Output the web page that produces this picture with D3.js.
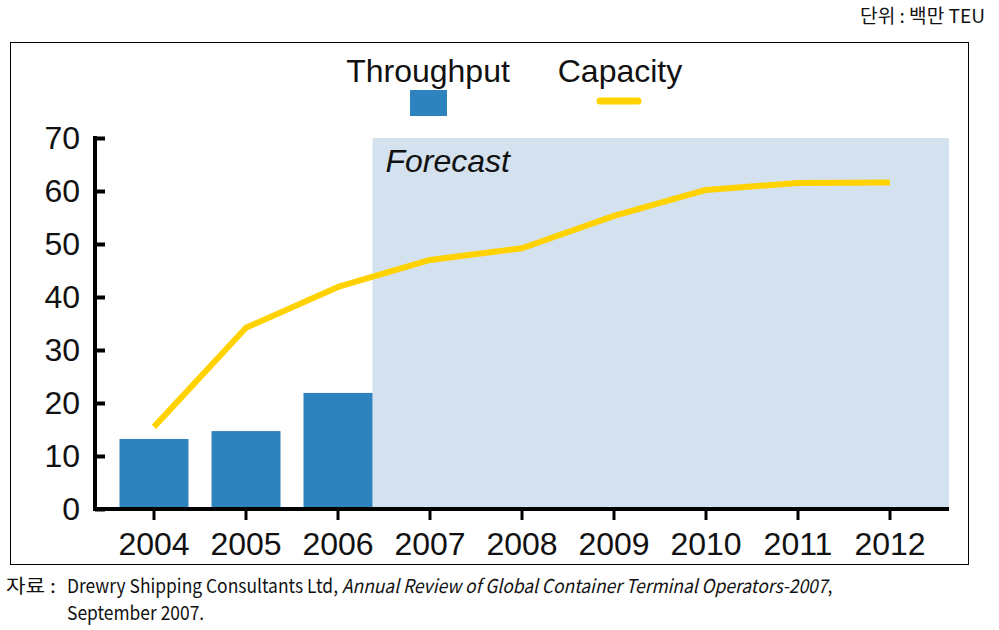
<!DOCTYPE html>
<html><head><meta charset="utf-8">
<script src="https://cdn.jsdelivr.net/npm/d3@7"></script>
<style>body{margin:0;background:#fff;}svg{display:block;}</style>
</head><body>
<svg id="c" width="999" height="630"></svg>
<script>
const years = ["2004","2005","2006","2007","2008","2009","2010","2011","2012"];
const throughput = [13.2, 14.7, 21.9];
const capacity = [15.5, 34.2, 41.9, 47.0, 49.2, 55.3, 60.2, 61.5, 61.6];
const yTicks = [0,10,20,30,40,50,60,70];
const forecastStart = "2006";

const svg = d3.select("#c");
const font = "'Liberation Sans', Arial, sans-serif";
const kfont = "'Noto Sans CJK KR', sans-serif";

// frame
svg.append("rect").attr("x",10.5).attr("y",42.5).attr("width",958).attr("height",522)
  .attr("fill","#fff").attr("stroke","#000").attr("stroke-width",1);

const x = d3.scaleBand().domain(years).range([108,936]).paddingInner(0.25).paddingOuter(0.125);
const y = d3.scaleLinear().domain([0,70]).range([509,138]);
const axisLeft = 95, axisRight = 949;

// forecast area
const fx = x(forecastStart) + x.bandwidth();
svg.append("rect").attr("x",fx).attr("y",y(70)).attr("width",axisRight-fx).attr("height",y(0)-y(70))
  .attr("fill","#d4e1ee");
svg.append("text").attr("x",fx+13).attr("y",172).attr("font-family",font).attr("font-style","italic")
  .attr("font-size",32).attr("fill","#111").text("Forecast");

// bars
svg.selectAll(".bar").data(throughput).enter().append("rect")
  .attr("x",(d,i)=>x(years[i])).attr("width",x.bandwidth())
  .attr("y",d=>y(d)).attr("height",d=>y(0)-y(d)).attr("fill","#2e82be");

// line
const line = d3.line().x((d,i)=>x(years[i])+x.bandwidth()/2).y(d=>y(d));
svg.append("path").datum(capacity).attr("d",line).attr("fill","none")
  .attr("stroke","#ffd200").attr("stroke-width",6).attr("stroke-linejoin","round");

// y axis
const ya = svg.append("g").attr("transform",`translate(${axisLeft},0)`)
  .call(d3.axisLeft(y).tickValues(yTicks).tickSizeInner(-10).tickSizeOuter(0).tickPadding(15));
ya.select(".domain").attr("stroke","#000").attr("stroke-width",4).attr("d",`M0,${y(70)-2}V${y(0)}`);
ya.selectAll(".tick line").attr("stroke","#000").attr("stroke-width",4);
ya.selectAll(".tick text").attr("font-family",font).attr("font-size",32).attr("fill","#111");

// x axis
const xa = svg.append("g").attr("transform",`translate(0,${y(0)})`)
  .call(d3.axisBottom(x).tickSizeInner(11).tickSizeOuter(0).tickPadding(12));
xa.select(".domain").attr("stroke","#000").attr("stroke-width",4).attr("d",`M${axisLeft-2},0H${axisRight}`);
xa.selectAll(".tick line").attr("stroke","#000").attr("stroke-width",3);
xa.selectAll(".tick text").attr("font-family",font).attr("font-size",32).attr("fill","#111");

// legend
svg.append("text").attr("x",428).attr("y",82).attr("text-anchor","middle").attr("font-family",font)
  .attr("font-size",32).attr("fill","#111").text("Throughput");
svg.append("rect").attr("x",410).attr("y",90).attr("width",37).attr("height",26).attr("fill","#2e82be");
svg.append("text").attr("x",620).attr("y",82).attr("text-anchor","middle").attr("font-family",font)
  .attr("font-size",32).attr("fill","#111").text("Capacity");
svg.append("line").attr("x1",600).attr("x2",638).attr("y1",101).attr("y2",101)
  .attr("stroke","#ffd200").attr("stroke-width",7).attr("stroke-linecap","round");

// unit
const u = svg.append("text").attr("font-family",kfont).attr("font-size",19).attr("fill","#111")
  .attr("text-anchor","end").text("단위 : 백만 TEU");
const uw = u.node().getComputedTextLength();
u.attr("transform",`translate(985,23) scale(${125/uw},1)`);

// source
const s0 = svg.append("text").attr("font-family",kfont).attr("font-size",19).attr("fill","#111").text("자료 :");
const w0 = s0.node().getComputedTextLength();
s0.attr("transform",`translate(6,593) scale(${50/w0},1)`);
const s1 = svg.append("text").attr("font-family",kfont).attr("font-size",19).attr("fill","#111");
s1.append("tspan").text("Drewry Shipping Consultants Ltd, ");
s1.append("tspan").attr("font-style","italic").text("Annual Review of Global Container Terminal Operators-2007");
s1.append("tspan").text(",");
const w1 = s1.node().getComputedTextLength();
const sc = (833-67)/w1;
s1.attr("transform",`translate(67,593) scale(${sc},1)`);
svg.append("text").attr("font-family",kfont).attr("font-size",19).attr("fill","#111")
  .attr("transform",`translate(67,620) scale(${sc},1)`).text("September 2007.");
</script>
</body></html>
